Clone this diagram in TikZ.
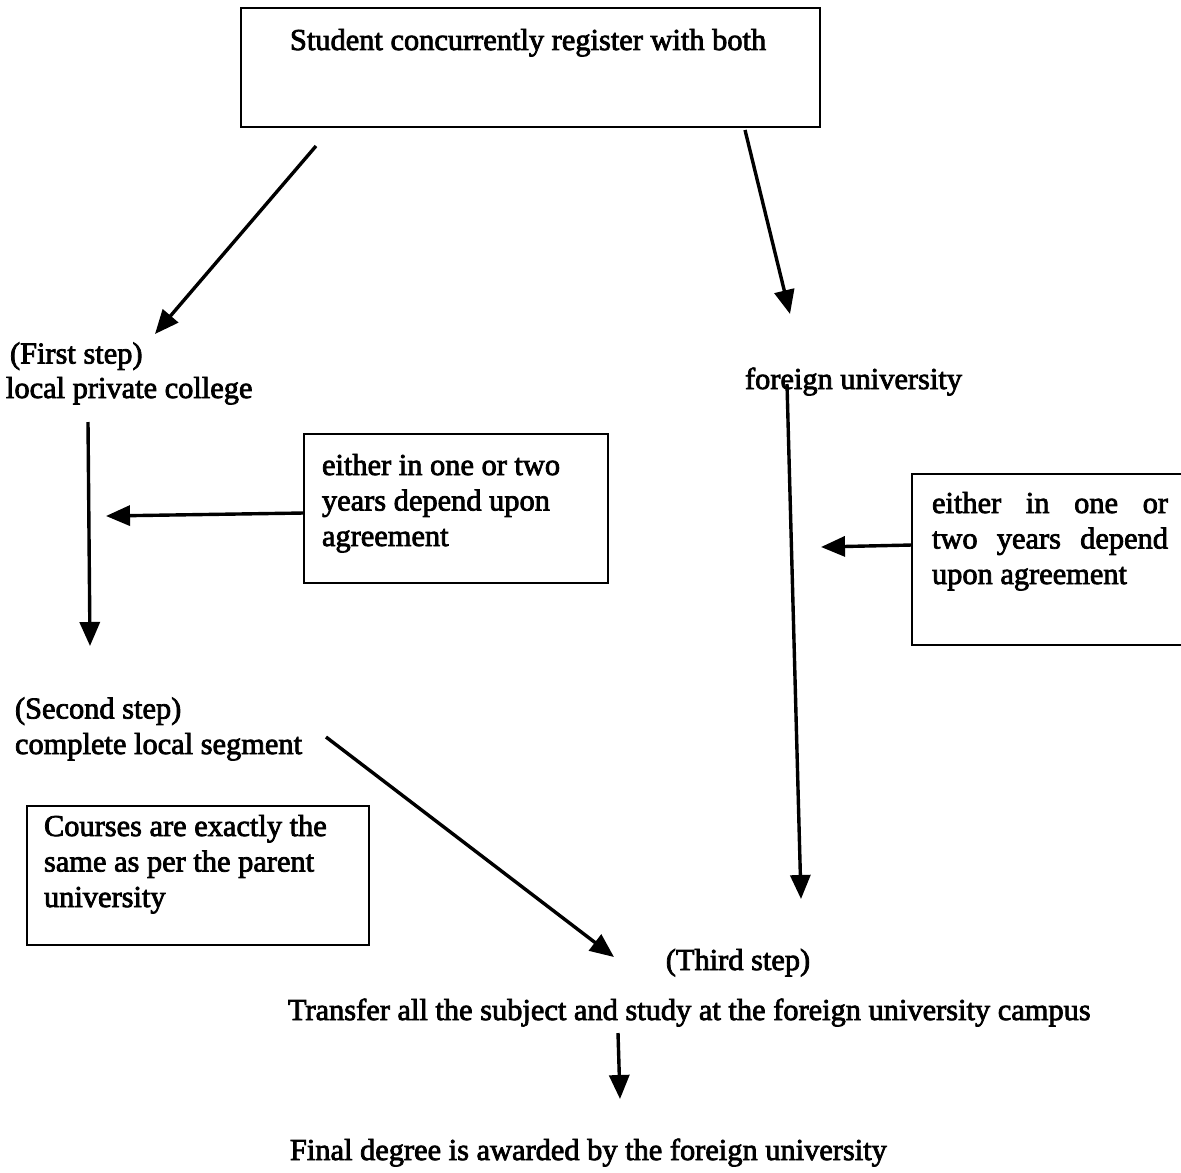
\documentclass[tikz,border=0pt]{standalone}
\usepackage{fontspec}
\setmainfont[FakeBold=2.5]{Liberation Serif}
\usetikzlibrary{arrows.meta}
\begin{document}
\begin{tikzpicture}[x=0.5pt,y=-0.5pt,
  txt/.style={inner sep=0pt, outer sep=0pt, font=\fontsize{15.2}{17.75}\selectfont, align=left},
  box/.style={draw, line width=1pt},
  arr/.style={line width=1.7pt, -{Triangle[length=12pt,width=10pt]}}]
\useasboundingbox (0,0) rectangle (1181,1172);
\clip (0,0) rectangle (1181,1172);
% boxes
\draw[box] (241,8) rectangle (820,127);
\node[txt, anchor=base west] (top) at (290,50) {Student concurrently register with both};

\node[txt, anchor=base west] (first) at (10,398) {(First step)\\[-0.5pt]\hspace*{-2pt}local private college};
\node[txt, anchor=base west] (foreign) at (745,389) {foreign university};

\draw[box] (304,434) rectangle (608,583);
\node[txt, anchor=base west] (b2t) at (322,546) {either in one or two\\years depend upon\\agreement};

\draw[box] (912,474) rectangle (1200,645);
\node[txt, anchor=base west] (b3t) at (932,584) {\makebox[118pt][s]{either in one or}\\\makebox[118pt][s]{two years depend}\\upon agreement};

\node[txt, anchor=base west] (second) at (15,754) {(Second step)\\complete local segment};

\draw[box] (27,806) rectangle (369,945);
\node[txt, anchor=base west] (b4t) at (44,907) {Courses are exactly the\\same as per the parent\\university};

\node[txt, anchor=base] (third) at (738,970) {(Third step)};
\node[txt, anchor=base west] (transfer) at (288,1020) {Transfer all the subject and study at the foreign university campus};
\node[txt, anchor=base west] (final) at (290,1160) {Final degree is awarded by the foreign university};

% arrow coordinates
\coordinate (a1s) at (316,146); \coordinate (a1e) at (155,334);
\coordinate (a2s) at (745,130); \coordinate (a2e) at (790,314);
\coordinate (a3s) at (88,422);  \coordinate (a3e) at (90,646);
\coordinate (a4s) at (304,513); \coordinate (a4e) at (106,516);
\coordinate (a5s) at (787,384); \coordinate (a5e) at (801,899);
\coordinate (a6s) at (912,545); \coordinate (a6e) at (821,547);
\coordinate (a7s) at (326,737); \coordinate (a7e) at (614,957);
\coordinate (a8s) at (618,1033); \coordinate (a8e) at (620,1099);

\draw[arr] (a1s) -- (a1e);
\draw[arr] (a2s) -- (a2e);
\draw[arr] (a3s) -- (a3e);
\draw[arr] (a4s) -- (a4e);
\draw[arr] (a5s) -- (a5e);
\draw[arr] (a6s) -- (a6e);
\draw[arr] (a7s) -- (a7e);
\draw[arr] (a8s) -- (a8e);
\end{tikzpicture}
\end{document}
